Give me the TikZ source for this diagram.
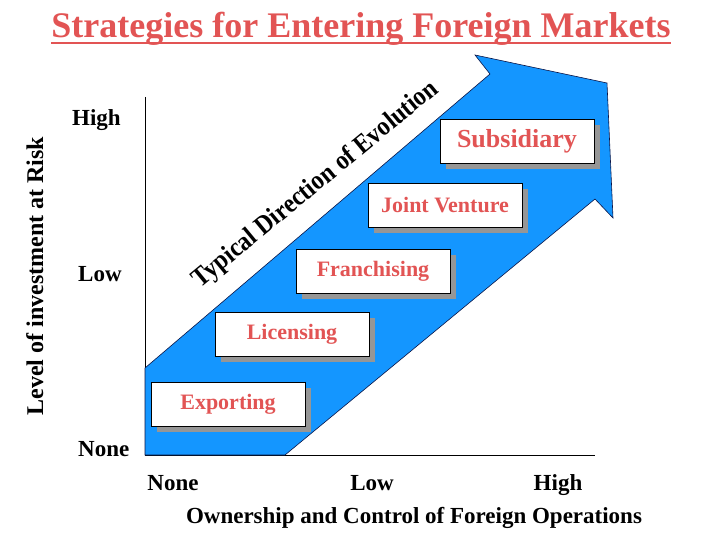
\documentclass[tikz,border=0pt]{standalone}
\usepackage{fontspec}
\setmainfont{Liberation Serif}
\usetikzlibrary{shadows}
\definecolor{arrowblue}{RGB}{20,150,255}
\definecolor{labelred}{RGB}{226,84,84}
\definecolor{shadowgray}{RGB}{150,150,150}
\definecolor{edgenavy}{RGB}{10,20,70}
\newcommand{\bfsize}[1]{\fontsize{#1}{#1}\selectfont\bfseries}

\begin{document}
\begin{tikzpicture}[x=1pt,y=-1pt,
    mode/.style={draw,line width=0.8pt,fill=white,minimum width=154pt,minimum height=44pt,
      inner sep=0pt,text=labelred,font=\bfsize{22},
      drop shadow={shadow xshift=6pt,shadow yshift=-6pt,fill=shadowgray,opacity=1}},
    tick/.style={inner sep=0pt,font=\bfsize{23}}]
    \useasboundingbox (0,0) rectangle (720,540);
    \node[inner sep=0pt,text=labelred,font=\bfsize{36},anchor=base] (title) at (361,38) {Strategies for Entering Foreign Markets};
    \draw[labelred,line width=2.5pt] ([yshift=-5pt]title.base west) -- ([yshift=-5pt]title.base east);
    \coordinate (origin) at (145,455);
    \coordinate (ytop) at (145,97);
    \coordinate (xend) at (595,455);
    \draw (ytop) -- (origin) -- (xend);
    \fill[arrowblue,draw=edgenavy,line width=0.6pt] (475,55) -- (607,83) -- (613,218) -- (595,199)
      -- (285,455) -- (145,455) -- (145,368) -- (490,74) -- cycle;
    \node[inner sep=0pt,font=\bfsize{27},rotate=39.5,anchor=base] (evo) at (320,190) {\scalebox{0.89}[1]{Typical Direction of Evolution}};
    \node[mode,font=\bfsize{26}] (sub) at (517,141) {Subsidiary};
    \node[mode] (jv) at (445,205) {Joint Venture};
    \node[mode] (fra) at (373,271) {Franchising};
    \node[mode] (lic) at (292,334) {Licensing};
    \node[mode] (exp) at (228,404) {Exporting};
    \node[tick,anchor=base west] (yhigh) at (72,126) {High};
    \node[tick,anchor=base west] (ylow) at (78,281) {Low};
    \node[tick,anchor=base west] (ynone) at (78,456) {None};
    \node[tick,anchor=base] (xnone) at (173,490) {None};
    \node[tick,anchor=base] (xlow) at (372,490) {Low};
    \node[tick,anchor=base] (xhigh) at (558,490) {High};
    \node[tick,anchor=base] (xlabel) at (414,523) {Ownership and Control of Foreign Operations};
    \node[tick,font=\bfsize{24},rotate=90,anchor=base] (ylabel) at (43,276) {Level of investment at Risk};
\end{tikzpicture}
\end{document}
